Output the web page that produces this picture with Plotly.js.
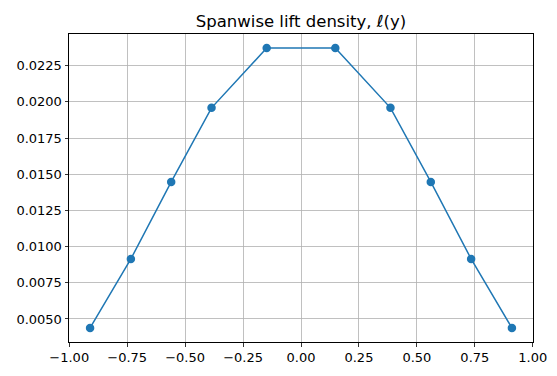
<!DOCTYPE html>
<html>
<head>
<meta charset="utf-8">
<script src="https://cdn.plot.ly/plotly-3.0.1.min.js"></script>
<style>html,body{margin:0;padding:0;background:#fff;}#chart{width:557px;height:376px;}</style>
</head>
<body>
<div id="chart"></div>
<script>
// Spanwise stations and lift density values
const spanY = [-0.910, -0.734, -0.560, -0.386, -0.148, 0.148, 0.386, 0.560, 0.734, 0.910];
const liftDensity = [0.00438, 0.00915, 0.01447, 0.01959, 0.02372, 0.02372, 0.01959, 0.01447, 0.00915, 0.00438];
const chartTitle = "Spanwise lift density, ℓ(y)";

const trace = {
  x: spanY,
  y: liftDensity,
  type: "scatter",
  mode: "lines+markers",
  line: {color: "#1f77b4", width: 1.5},
  marker: {color: "#1f77b4", size: 8.5},
  hoverinfo: "skip"
};

const axisCommon = {
  showline: true,
  linecolor: "black",
  linewidth: 1,
  mirror: true,
  ticks: "outside",
  ticklen: 3.5,
  tickwidth: 0.8,
  tickcolor: "black",
  showgrid: true,
  gridcolor: "#b0b0b0",
  gridwidth: 0.8,
  zeroline: false,
  tickfont: {family: "DejaVu Sans", size: 13, color: "black"}
};

const layout = {
  width: 557,
  height: 376,
  margin: {l: 68.5, r: 24, t: 34, b: 34},
  paper_bgcolor: "white",
  plot_bgcolor: "white",
  showlegend: false,
  title: {
    text: chartTitle,
    font: {family: "DejaVu Sans", size: 16.5, color: "black"},
    x: 0.5, xref: "paper", xanchor: "center",
    y: 1, yref: "paper", yanchor: "bottom",
    pad: {b: 7}
  },
  xaxis: Object.assign({}, axisCommon, {
    range: [-1.001, 1.001],
    tick0: 0, dtick: 0.25, tickformat: ".2f"
  }),
  yaxis: Object.assign({}, axisCommon, {
    range: [0.00341, 0.02469],
    tick0: 0, dtick: 0.0025, tickformat: ".4f"
  })
};

Plotly.newPlot("chart", [trace], layout, {staticPlot: true, displayModeBar: false});
</script>
</body>
</html>
